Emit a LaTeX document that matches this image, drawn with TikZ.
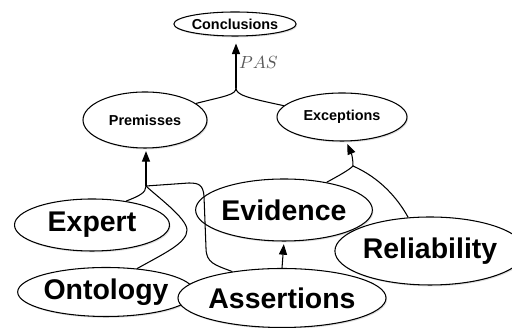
\documentclass[tikz,border=0pt]{standalone}
\usepackage{fontspec}
\setmainfont{Liberation Sans}
\usepackage{tikz}
\usetikzlibrary{positioning,calc,shapes.geometric,shadows,arrows.meta}

\begin{document}
\begin{tikzpicture}[
					basenode/.style={
						ellipse, draw=black, line width=0.6pt, fill=white,
						inner sep=0pt,
						drop shadow={shadow xshift=0.6pt, shadow yshift=-0.8pt, opacity=0.25}
					},
					smallnode/.style={
						basenode, font=\fontsize{8.2}{10}\selectfont\bfseries
					},
					bignode/.style={
						basenode, font=\fontsize{16.2}{19}\selectfont\bfseries
					},
					link/.style={draw=black, line width=0.6pt},
					arr/.style={link, -{Triangle[length=6pt,width=4.6pt]}, shorten >=1.5pt}
					]
					\useasboundingbox (0,0) rectangle (10.24,6.56);
					
					% --- OBEN: Conclusions ---
					\node[smallnode, minimum width=2.12cm, minimum height=0.48cm] (conclusions) at (4.70, 6.08) {Conclusions};
					
					% --- MITTE: Premisses / Exceptions ---
					\node[smallnode, minimum width=2.48cm, minimum height=1.12cm] (premisses) at (2.90, 4.16) {Premisses};
					\node[smallnode, minimum width=2.60cm, minimum height=0.96cm] (exceptions) at (6.84, 4.22) {Exceptions};
					
					% --- UNTEN: Blätter ---
					\node[bignode, minimum width=3.10cm, minimum height=1.04cm] (expert) at (1.84, 2.06) {Expert};
					\node[bignode, minimum width=3.10cm, minimum height=0.98cm] (ontology) at (2.12, 0.72) {Ontology};
					\node[bignode, minimum width=2.94cm, minimum height=1.24cm] (evidence) at (5.68, 2.36) {Evidence};
					\node[bignode, minimum width=3.12cm, minimum height=1.36cm] (reliability) at (8.60, 1.54) {Reliability};
					\node[bignode, minimum width=3.54cm, minimum height=1.18cm] (assertions) at (5.64, 0.60) {Assertions};
					
					% --- Verzweigungspunkte ---
					\coordinate (jtop) at (4.72, 4.80);
					\coordinate (jprem) at (2.92, 2.84);
					\coordinate (jexc) at (7.06, 3.24);
					
					% --- PAS ---
					\draw[link] (premisses.18) .. controls (4.5,4.64) and (4.72,4.66) .. (jtop);
					\draw[link] (exceptions.169) .. controls (4.95,4.6) and (4.72,4.66) .. (jtop);
					\draw[arr, shorten >=4pt] (jtop) -- (conclusions.south -| jtop);
					\node[gray!70!black, inner sep=1pt, anchor=west] (pas) at (4.74, 5.30) {$PAS$};
					
					% --- Premisses ---
					\draw[link] (expert.35) .. controls (2.78,2.64) and (2.92,2.7) .. (jprem);
					\draw[link] (ontology.37) .. controls (3.3,1.5) and (3.74,1.7) .. (3.74,1.96)
						.. controls (3.74,2.2) and (3.1,2.66) .. (jprem);
					\draw[link] (assertions.152) .. controls (4.3,1.26) and (4.12,1.3) .. (4.12,1.6)
						-- (4.08,2.64) .. controls (4.06,2.86) and (3.98,2.9) .. (3.78,2.9) -- (jprem);
					\draw[arr] (jprem) -- (premisses.south -| jprem);
					
					% --- Exceptions ---
					\draw[link] (evidence.33) .. controls (6.8,3.06) and (6.98,3.16) .. (jexc);
					\draw[link] (reliability.123) .. controls (7.95,2.6) and (7.6,3.0) .. (jexc);
					\draw[arr] (jexc) .. controls (7.06,3.36) and (7.04,3.46) .. (exceptions.-80);
					
					% --- Evidence ---
					\draw[arr] (assertions.north) -- (evidence.south);
					
				\end{tikzpicture}
\end{document}
